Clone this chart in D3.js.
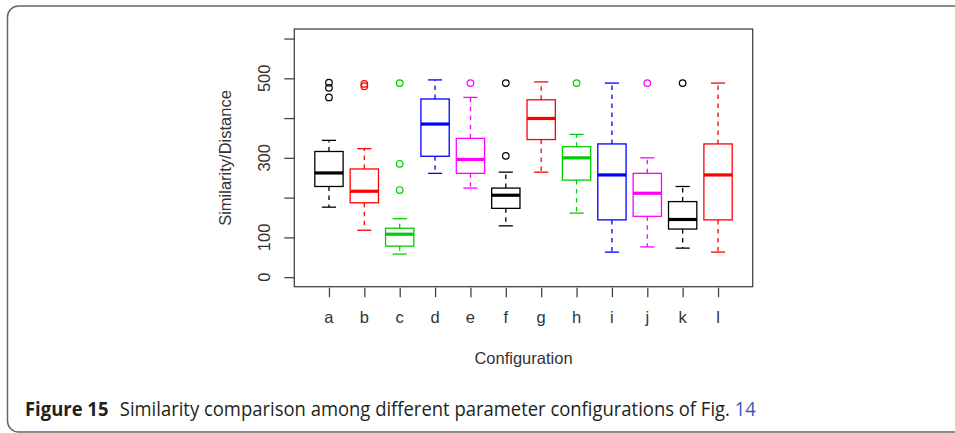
<!DOCTYPE html>
<html><head><meta charset="utf-8">
<script src="https://cdn.jsdelivr.net/npm/d3@7"></script>
<style>html,body{margin:0;padding:0;background:#fff;}svg{display:block;}</style>
</head><body>
<svg id="chart" width="955" height="433"></svg>
<script>
const categories = ["a","b","c","d","e","f","g","h","i","j","k","l"];
const whiskerLow  = [176,118, 58,261,224,129,264,161, 63, 76, 73, 63];
const q1          = [228,187, 78,304,261,173,346,244,144,153,121,144];
const medians     = [262,216,108,385,296,206,399,300,257,211,145,257];
const q3          = [316,272,123,448,349,224,446,328,335,261,190,335];
const whiskerHigh = [344,323,147,496,452,264,491,359,488,300,228,488];
const outliers    = [[452,476,489],[480,486],[219,285,488],[],[488],[305,488],[],[488],[],[488],[488],[]];
const colors      = ["#000000","#ff0000","#00cd00","#0000ff","#ff00ff","#000000","#ff0000","#00cd00","#0000ff","#ff00ff","#000000","#ff0000"];
const yTicks      = [0,100,200,300,400,500,600];
const yTickLabels = ["0","100","","300","","500",""];
const yLabel = "Similarity/Distance";
const xLabel = "Configuration";

const svg = d3.select("#chart");
const box = {left:294.3, right:752.7, top:29, bottom:286.7};

// R-style extended domains
const x = d3.scaleLinear().domain([0.02, 12.98]).range([box.left, box.right]);
const y = d3.scaleLinear().domain([-24, 624]).range([box.bottom, box.top]);

// outer figure frame
svg.append("rect").attr("x",7.5).attr("y",6).attr("width",970).attr("height",426)
  .attr("rx",11).attr("fill","none").attr("stroke","#666").attr("stroke-width",1.5);

// plot frame
svg.append("rect").attr("x",box.left).attr("y",box.top)
  .attr("width",box.right-box.left).attr("height",box.bottom-box.top)
  .attr("fill","none").attr("stroke","#444").attr("stroke-width",1.3);

// y axis
const yAxis = d3.axisLeft(y).tickValues(yTicks).tickSize(10).tickFormat(()=>"");
const gy = svg.append("g").attr("transform",`translate(${box.left},0)`).call(yAxis);
gy.select(".domain").remove();
gy.selectAll(".tick line").attr("stroke","#444").attr("stroke-width",1.3);
svg.append("g").selectAll("text").data(yTicks.map((v,i)=>({v,l:yTickLabels[i]})).filter(d=>d.l))
  .join("text")
  .attr("transform",d=>`translate(${box.left-24},${y(d.v)}) rotate(-90)`)
  .attr("text-anchor","middle")
  .attr("font-family","Liberation Sans, Arial, sans-serif").attr("font-size",16.5).attr("fill","#333")
  .text(d=>d.l);

// x axis
const xAxis = d3.axisBottom(x).tickValues(d3.range(1,13)).tickSize(9.5).tickFormat(()=>"");
const gx = svg.append("g").attr("transform",`translate(0,${box.bottom+1})`).call(xAxis);
gx.select(".domain").remove();
gx.selectAll(".tick line").attr("stroke","#444").attr("stroke-width",1.3);
svg.append("g").selectAll("text").data(categories).join("text")
  .attr("x",(d,i)=>x(i+1)).attr("y",323)
  .attr("text-anchor","middle")
  .attr("font-family","Liberation Sans, Arial, sans-serif").attr("font-size",16.5).attr("fill","#333")
  .text(d=>d);

// axis titles
svg.append("text").attr("x",(box.left+box.right)/2).attr("y",364)
  .attr("text-anchor","middle").attr("font-family","Liberation Sans, Arial, sans-serif")
  .attr("font-size",16.5).attr("fill","#333").text(xLabel);
svg.append("text").attr("transform",`translate(231,158) rotate(-90)`)
  .attr("text-anchor","middle").attr("font-family","Liberation Sans, Arial, sans-serif")
  .attr("font-size",16.5).attr("fill","#333").text(yLabel);

// boxes
const unit = x(2)-x(1);
const bw = 0.8*unit, sw = 0.4*unit;
const g = svg.append("g");
categories.forEach((c,i)=>{
  const cx = x(i+1), col = colors[i];
  const gg = g.append("g").attr("stroke",col).attr("fill","none");
  gg.append("line").attr("x1",cx).attr("x2",cx).attr("y1",y(q3[i])).attr("y2",y(whiskerHigh[i]))
    .attr("stroke-dasharray","4.5,4.5").attr("stroke-width",1.3);
  gg.append("line").attr("x1",cx).attr("x2",cx).attr("y1",y(q1[i])).attr("y2",y(whiskerLow[i]))
    .attr("stroke-dasharray","4.5,4.5").attr("stroke-width",1.3);
  [whiskerHigh[i], whiskerLow[i]].forEach(v=>{
    gg.append("line").attr("x1",cx-sw/2).attr("x2",cx+sw/2).attr("y1",y(v)).attr("y2",y(v)).attr("stroke-width",1.3);
  });
  gg.append("rect").attr("x",cx-bw/2).attr("width",bw).attr("y",y(q3[i])).attr("height",y(q1[i])-y(q3[i]))
    .attr("stroke-width",1.3);
  gg.append("line").attr("x1",cx-bw/2).attr("x2",cx+bw/2).attr("y1",y(medians[i])).attr("y2",y(medians[i]))
    .attr("stroke-width",3.2);
  outliers[i].forEach(v=>{
    gg.append("circle").attr("cx",cx).attr("cy",y(v)).attr("r",3.3).attr("stroke-width",1.2);
  });
});

// caption
const cap = svg.append("text").attr("x",0).attr("y",0)
  .attr("font-family","Open Sans, Noto Sans, sans-serif").attr("font-size",19.5).attr("fill","#231f20");
cap.append("tspan").attr("font-weight","bold").text("Figure 15");
cap.append("tspan").attr("dx",12).text("Similarity comparison among different parameter configurations of Fig. ");
cap.append("tspan").attr("fill","#3953c4").text("14");
const w = cap.node().getComputedTextLength();
cap.attr("transform",`translate(25,415.5) scale(${720/w},1)`);
</script>
</body></html>
